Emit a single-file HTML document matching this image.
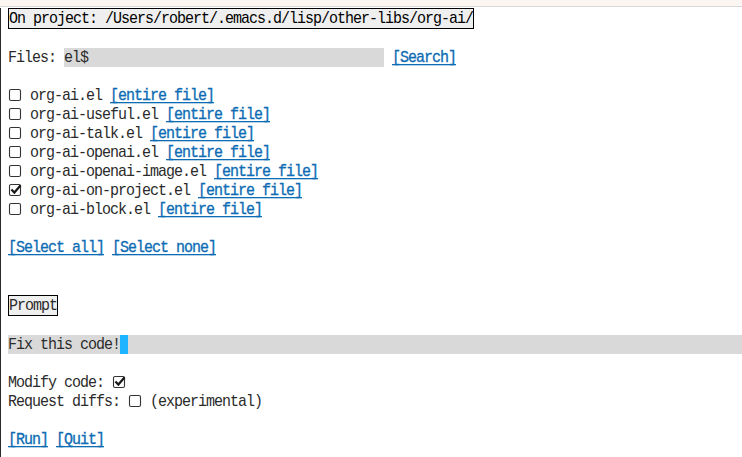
<!DOCTYPE html>
<html><head><meta charset="utf-8">
<style>
html,body{margin:0;padding:0;}
body{width:742px;height:457px;overflow:hidden;background:#fff;position:relative;
  font-family:"Liberation Mono",monospace;font-size:15px;letter-spacing:-1px;color:#2b2b2b;}
#top{position:absolute;left:0;top:0;width:742px;height:6px;background:#fbf6f1;}
#topline{position:absolute;left:0;top:6px;width:742px;height:1px;background:#d9d9d9;}
#lbar{position:absolute;left:0;top:8px;width:1px;height:449px;background:#2a2a2a;}
.l{position:absolute;left:8px;height:19px;line-height:19px;white-space:pre;transform:scaleY(1.06);transform-origin:0 14px;}
.t{position:relative;top:1px;}
a{color:#0e6cb4;text-decoration:none;-webkit-text-stroke:0.3px #0e6cb4;}
.u{position:absolute;height:1px;background:#0e6cb4;box-shadow:0 1px 0 rgba(14,108,180,0.3);}
.box{position:absolute;border:1px solid #000;background:#efefef;}
.fld{position:absolute;background:#d9d9d9;height:19px;}
.cb{position:absolute;}
</style></head><body>
<div id="top"></div><div id="topline"></div><div id="lbar"></div>

<div class="box" style="left:8px;top:8px;width:464px;height:19px;"></div>
<div class="l" style="top:9px;left:9px;color:#000;"><span class="t">On project: /Users/robert/.emacs.d/lisp/other-libs/org-ai/</span></div>

<div class="fld" style="left:64px;top:48px;width:320px;"></div>
<div class="l" style="top:48px;"><span class="t">Files: el$                                      <a>[Search]</a></span></div>

<div class="l" style="top:86px;left:30px;"><span class="t">org-ai.el <a>[entire file]</a></span></div>
<div class="l" style="top:105px;left:30px;"><span class="t">org-ai-useful.el <a>[entire file]</a></span></div>
<div class="l" style="top:124px;left:30px;"><span class="t">org-ai-talk.el <a>[entire file]</a></span></div>
<div class="l" style="top:143px;left:30px;"><span class="t">org-ai-openai.el <a>[entire file]</a></span></div>
<div class="l" style="top:162px;left:30px;"><span class="t">org-ai-openai-image.el <a>[entire file]</a></span></div>
<div class="l" style="top:181px;left:30px;"><span class="t">org-ai-on-project.el <a>[entire file]</a></span></div>
<div class="l" style="top:200px;left:30px;"><span class="t">org-ai-block.el <a>[entire file]</a></span></div>

<div class="l" style="top:238px;"><span class="t"><a>[Select all]</a> <a>[Select none]</a></span></div>

<div class="box" style="left:8px;top:295px;width:48px;height:19px;"></div>
<div class="l" style="top:296px;left:9px;"><span class="t">Prompt</span></div>

<div class="fld" style="left:8px;top:335px;width:734px;"></div>
<div style="position:absolute;left:120px;top:335px;width:8px;height:19px;background:#1fb4ff;"></div>
<div class="l" style="top:335px;"><span class="t">Fix this code!</span></div>

<div class="l" style="top:373px;"><span class="t">Modify code:</span></div>
<div class="l" style="top:392px;"><span class="t">Request diffs:</span></div>
<div class="l" style="top:392px;left:150px;"><span class="t">(experimental)</span></div>

<div class="l" style="top:430px;"><span class="t"><a>[Run]</a> <a>[Quit]</a></span></div>

<!-- underlines -->
<div class="u" style="left:392px;top:64px;width:64px;"></div>
<div class="u" style="left:110px;top:102px;width:104px;"></div>
<div class="u" style="left:166px;top:121px;width:104px;"></div>
<div class="u" style="left:150px;top:140px;width:104px;"></div>
<div class="u" style="left:166px;top:159px;width:104px;"></div>
<div class="u" style="left:214px;top:178px;width:104px;"></div>
<div class="u" style="left:198px;top:197px;width:104px;"></div>
<div class="u" style="left:158px;top:216px;width:104px;"></div>
<div class="u" style="left:8px;top:254px;width:96px;"></div>
<div class="u" style="left:112px;top:254px;width:104px;"></div>
<div class="u" style="left:8px;top:446px;width:40px;"></div>
<div class="u" style="left:56px;top:446px;width:48px;"></div>

<!-- checkboxes -->
<svg class="cb" style="left:8px;top:86px" width="14" height="19"><rect x="1.5" y="3.5" width="11" height="11" rx="1.6" fill="none" stroke="#333" stroke-width="1.1"/></svg>
<svg class="cb" style="left:8px;top:105px" width="14" height="19"><rect x="1.5" y="3.5" width="11" height="11" rx="1.6" fill="none" stroke="#333" stroke-width="1.1"/></svg>
<svg class="cb" style="left:8px;top:124px" width="14" height="19"><rect x="1.5" y="3.5" width="11" height="11" rx="1.6" fill="none" stroke="#333" stroke-width="1.1"/></svg>
<svg class="cb" style="left:8px;top:143px" width="14" height="19"><rect x="1.5" y="3.5" width="11" height="11" rx="1.6" fill="none" stroke="#333" stroke-width="1.1"/></svg>
<svg class="cb" style="left:8px;top:162px" width="14" height="19"><rect x="1.5" y="3.5" width="11" height="11" rx="1.6" fill="none" stroke="#333" stroke-width="1.1"/></svg>
<svg class="cb" style="left:8px;top:181px" width="14" height="19"><rect x="1.5" y="3.5" width="11" height="11" rx="1.6" fill="none" stroke="#333" stroke-width="1.1"/><path d="M3.4 8.4 L6.4 11.5 L12.6 4.3" fill="none" stroke="#1a1a1a" stroke-width="2.2"/></svg>
<svg class="cb" style="left:8px;top:200px" width="14" height="19"><rect x="1.5" y="3.5" width="11" height="11" rx="1.6" fill="none" stroke="#333" stroke-width="1.1"/></svg>
<svg class="cb" style="left:112px;top:373px" width="14" height="19"><rect x="1.5" y="3.5" width="11" height="11" rx="1.6" fill="none" stroke="#333" stroke-width="1.1"/><path d="M3.4 8.4 L6.4 11.5 L12.6 4.3" fill="none" stroke="#1a1a1a" stroke-width="2.2"/></svg>
<svg class="cb" style="left:128px;top:392px" width="14" height="19"><rect x="1.5" y="3.5" width="11" height="11" rx="1.6" fill="none" stroke="#333" stroke-width="1.1"/></svg>
</body></html>
